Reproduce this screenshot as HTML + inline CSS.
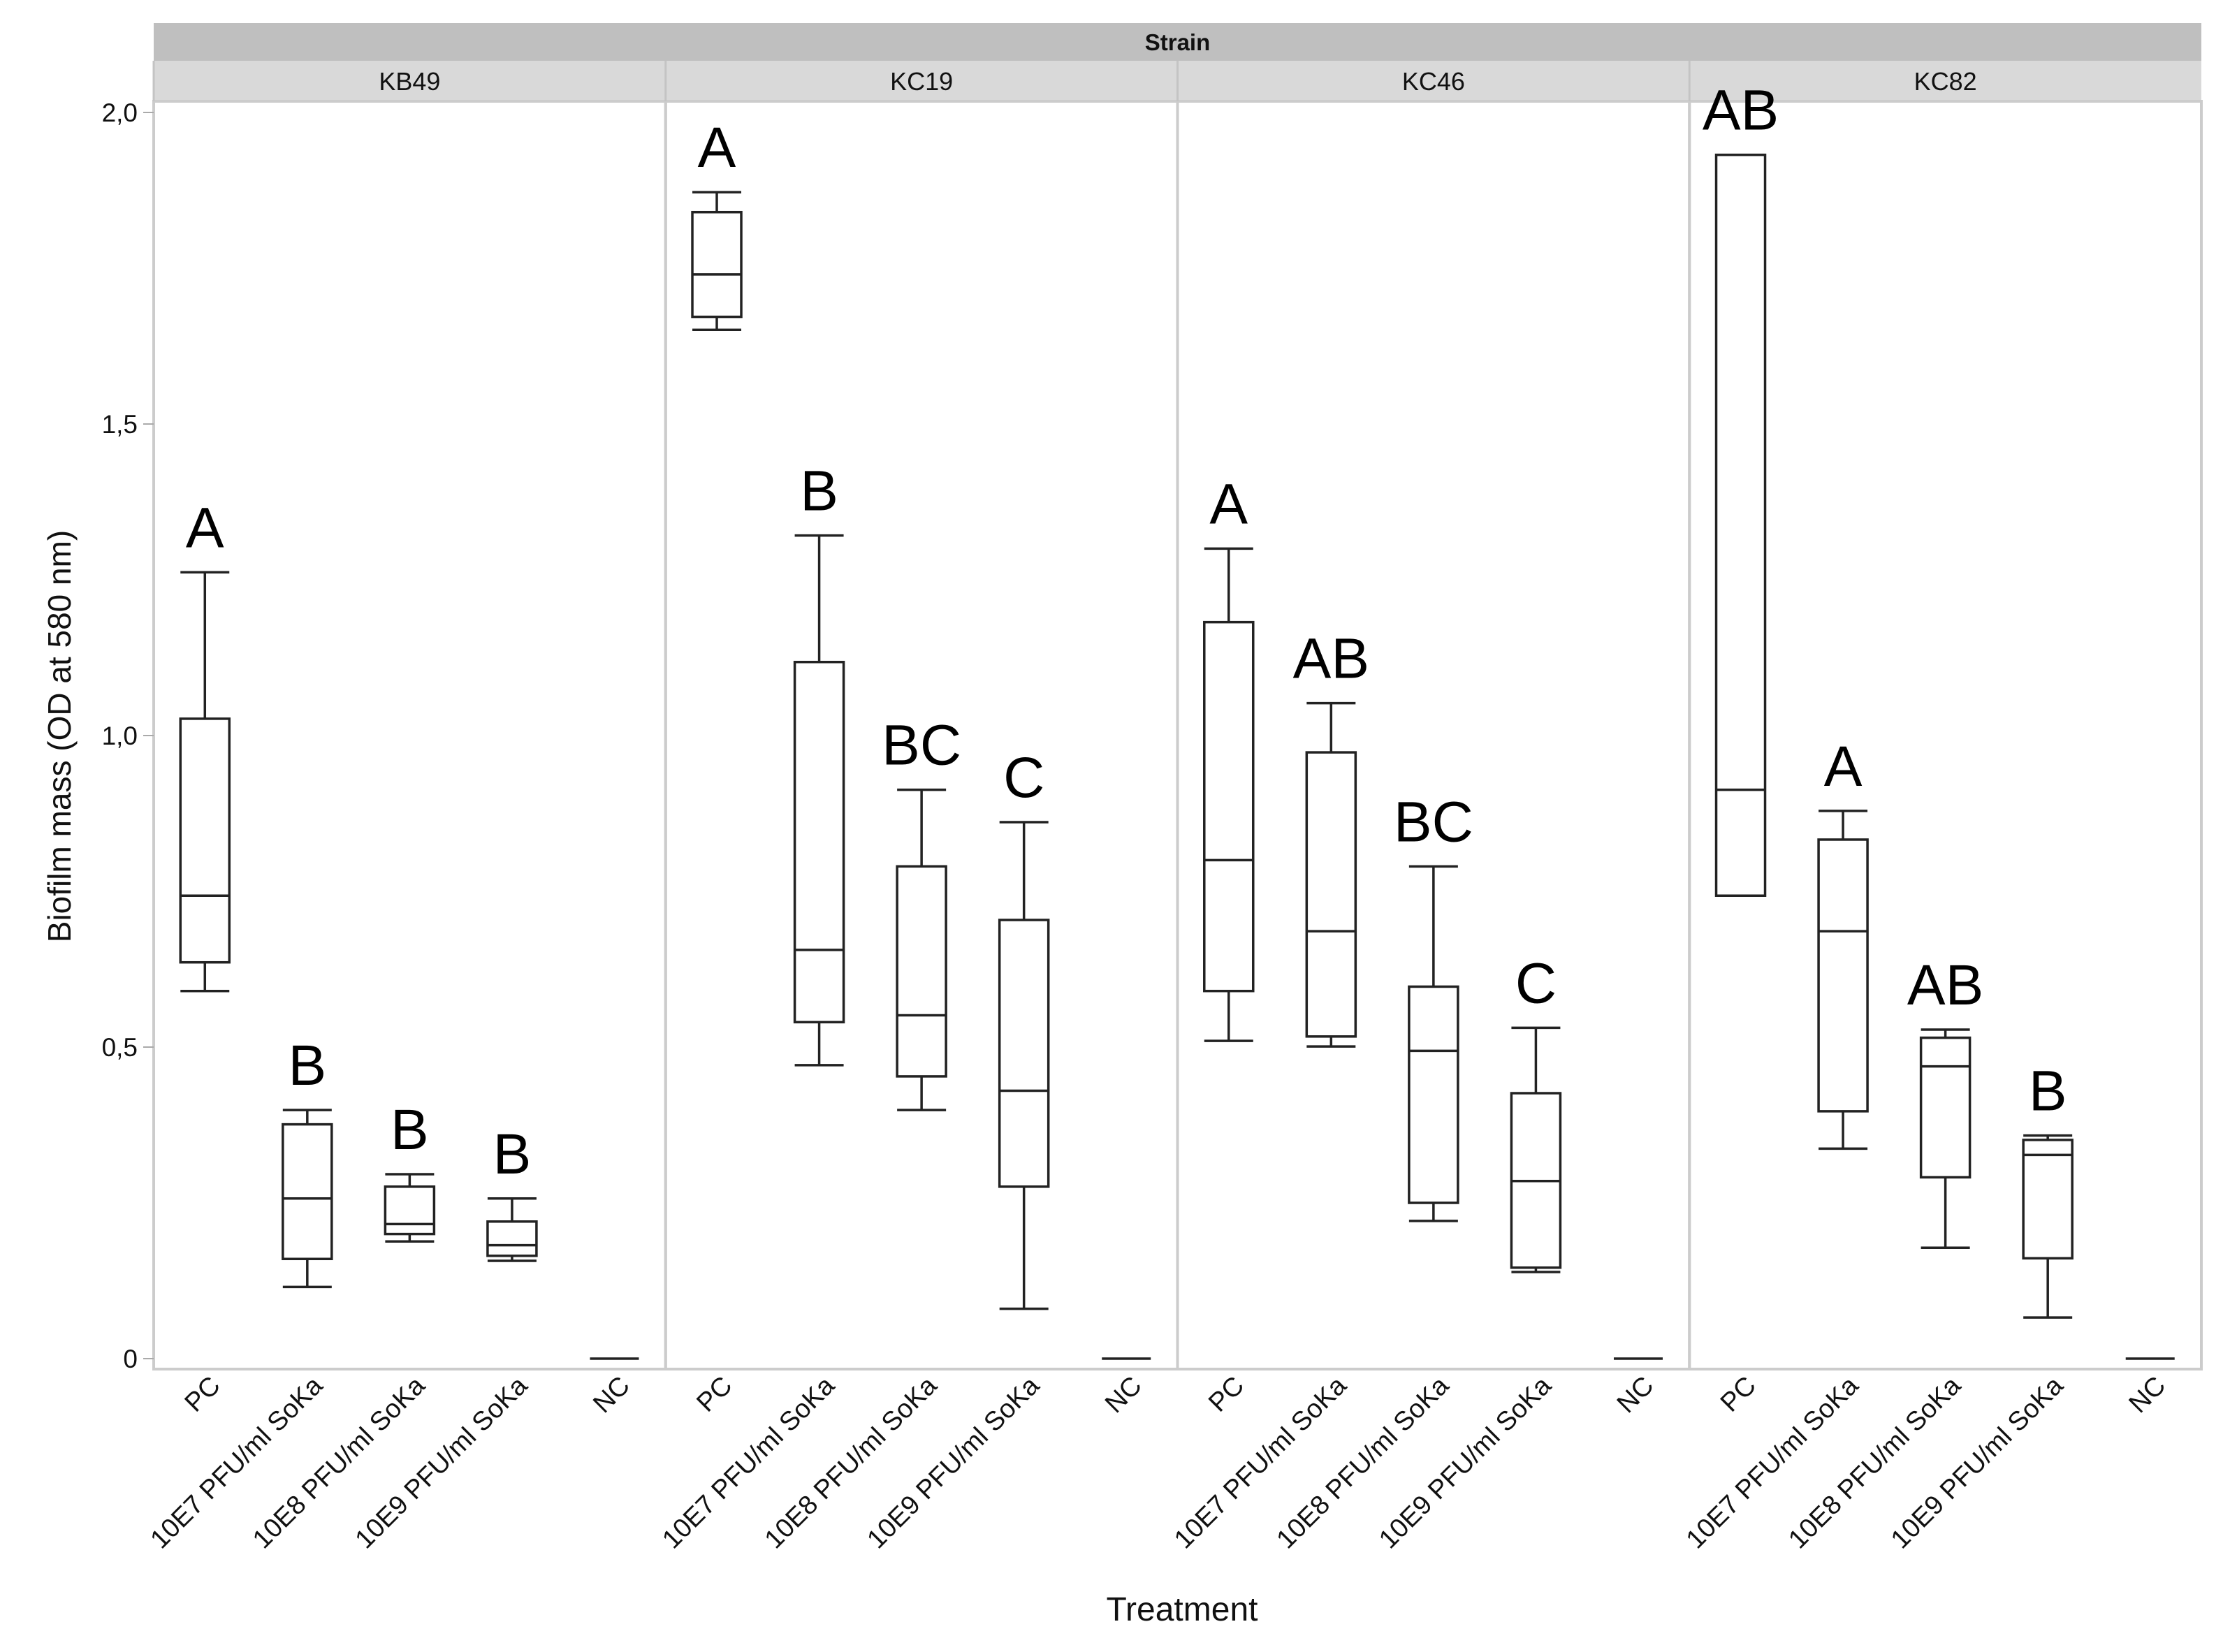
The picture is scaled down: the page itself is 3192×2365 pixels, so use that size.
<!DOCTYPE html>
<html><head><meta charset="utf-8"><style>
html,body{margin:0;padding:0;background:#fff;}
svg{display:block;font-family:"Liberation Sans",Arial,sans-serif;}
</style></head><body>
<svg id="chart" width="3192" height="2365" viewBox="0 0 3192 2365" xmlns="http://www.w3.org/2000/svg">
<rect width="3192" height="2365" fill="#fff"/>
<g id="g"></g>
</svg>
<script>
const strains = ["KB49","KC19","KC46","KC82"];
const treatments = ["PC","10E7 PFU/ml SoKa","10E8 PFU/ml SoKa","10E9 PFU/ml SoKa","NC"];
// [lo, q1, median, q3, hi] per strain, per treatment
const statsKB49 = [[0.59,0.636,0.743,1.027,1.262],[0.115,0.16,0.257,0.376,0.399],[0.188,0.2,0.216,0.276,0.296],[0.157,0.165,0.182,0.22,0.257],[0,0,0,0,0]];
const statsKC19 = [[1.651,1.672,1.74,1.84,1.872],[0.471,0.54,0.656,1.118,1.321],[0.399,0.453,0.551,0.79,0.913],[0.08,0.276,0.43,0.704,0.861],[0,0,0,0,0]];
const statsKC46 = [[0.51,0.59,0.80,1.182,1.30],[0.501,0.517,0.686,0.973,1.052],[0.221,0.25,0.494,0.597,0.79],[0.139,0.146,0.285,0.426,0.531],[0,0,0,0,0]];
const statsKC82 = [[0.743,0.743,0.913,1.932,1.932],[0.337,0.397,0.686,0.833,0.879],[0.178,0.291,0.469,0.515,0.528],[0.066,0.161,0.327,0.351,0.358],[0,0,0,0,0]];
const lettersKB49 = ["A","B","B","B",""];
const lettersKC19 = ["A","B","BC","C",""];
const lettersKC46 = ["A","AB","BC","C",""];
const lettersKC82 = ["AB","A","AB","B",""];
const yTicks = [0,0.5,1.0,1.5,2.0];
const yTickLabels = ["0","0,5","1,0","1,5","2,0"];

const allStats=[statsKB49,statsKC19,statsKC46,statsKC82];
const allLetters=[lettersKB49,lettersKC19,lettersKC46,lettersKC82];
const NS="http://www.w3.org/2000/svg";
const g=document.getElementById('g');
const L=220,R=3151,T=145,B=1960;
const pw=(R-L)/4;
function y(v){return 1945-v*892;}
function x(si,ti){return L+si*pw+(ti+0.5)*pw/5;}
function el(tag,attrs,parent){const e=document.createElementNS(NS,tag);for(const k in attrs)e.setAttribute(k,attrs[k]);(parent||g).appendChild(e);return e;}

let s=el('rect',{x:L,y:33,width:R-L,height:54,fill:'#bfbfbf'});


let st=el('text',{x:(L+R)/2,y:72,'text-anchor':'middle','font-size':33,'font-weight':'bold',fill:'#111'});
st.textContent='Strain';



strains.forEach((name,si)=>{
  const px=L+si*pw;
  const r=el('rect',{x:px,y:87,width:pw,height:58,fill:'#d9d9d9'});
  
  
  const t=el('text',{x:px+pw/2,y:129,'text-anchor':'middle','font-size':36,fill:'#111'});
  t.textContent=name;
  
  
  const p=el('rect',{x:px,y:T,width:pw,height:B-T,fill:'none',stroke:'#cccccc','stroke-width':4});
  
  
  el('line',{x1:px,x2:px,y1:87,y2:145,stroke:'#c4c4c4','stroke-width':3});
});

yTicks.forEach((v,i)=>{
  const tk=el('line',{x1:205,x2:220,y1:y(v),y2:y(v),stroke:'#aaa','stroke-width':2});
  
  
  const t=el('text',{x:197,y:y(v)+13,'text-anchor':'end','font-size':37,fill:'#111'});
  t.textContent=yTickLabels[i];
  
  
});
const yt=el('text',{x:0,y:0,transform:'translate(101,1054) rotate(-90)','text-anchor':'middle','font-size':46,fill:'#111'});
yt.textContent='Biofilm mass (OD at 580 nm)';


const xt=el('text',{x:1692,y:2320,'text-anchor':'middle','font-size':48,fill:'#111'});
xt.textContent='Treatment';



const bw=70;
allStats.forEach((stats,si)=>{
  stats.forEach((d,ti)=>{
    const cx=x(si,ti);
    const [lo,q1,md,q3,hi]=d;
    const grp=el('g',{stroke:'#222','stroke-width':3.5,fill:'none'});
    
    
    if(hi>q3){el('line',{x1:cx,x2:cx,y1:y(hi),y2:y(q3)},grp);el('line',{x1:cx-bw/2,x2:cx+bw/2,y1:y(hi),y2:y(hi)},grp);}
    if(lo<q1){el('line',{x1:cx,x2:cx,y1:y(q1),y2:y(lo)},grp);el('line',{x1:cx-bw/2,x2:cx+bw/2,y1:y(lo),y2:y(lo)},grp);}
    if(q3>q1) el('rect',{x:cx-bw/2,y:y(q3),width:bw,height:y(q1)-y(q3)},grp);
    el('line',{x1:cx-bw/2,x2:cx+bw/2,y1:y(md),y2:y(md)},grp);
    const lt=allLetters[si][ti];
    if(lt){
      const t=el('text',{x:cx,y:y(hi)-36,'text-anchor':'middle','font-size':82,fill:'#000'});
      t.textContent=lt;
      
      
    }
    const xl=el('text',{x:0,y:0,transform:`translate(${cx+24},${1986}) rotate(-45)`,'text-anchor':'end','font-size':38,fill:'#111'});
    xl.textContent=treatments[ti];
    
    
  });
});
</script>
</body></html>
